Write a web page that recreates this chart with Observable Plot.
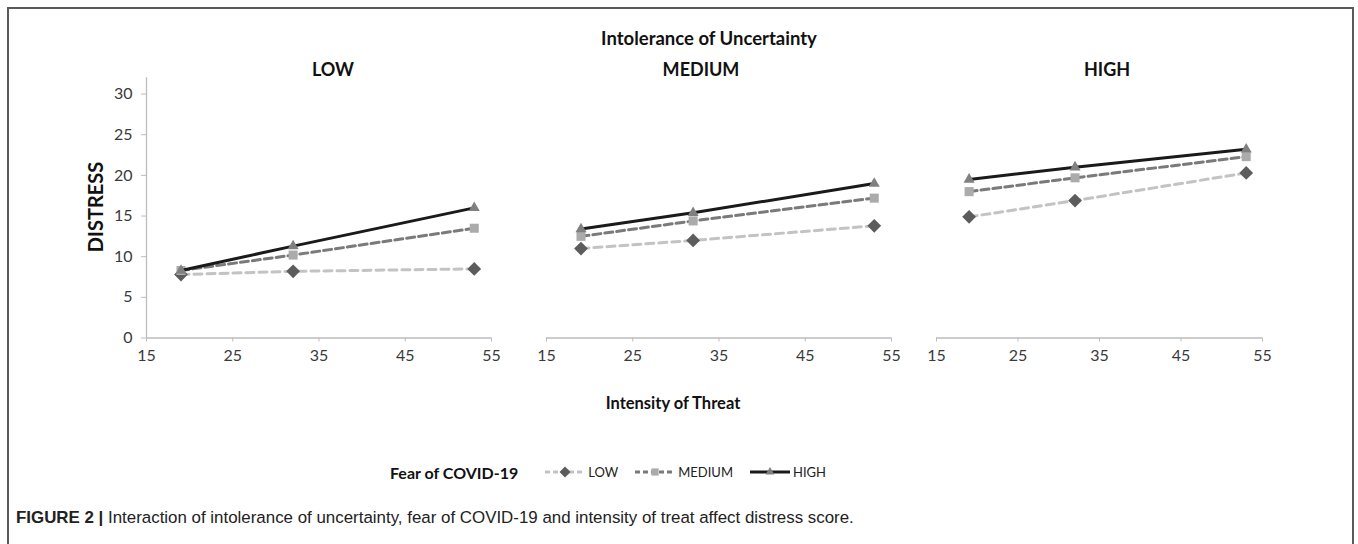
<!DOCTYPE html>
<html><head><meta charset="utf-8">
<script src="https://cdn.jsdelivr.net/npm/d3@7"></script>
<script src="https://cdn.jsdelivr.net/npm/@observablehq/plot@0.6"></script>
<style>
html,body{margin:0;padding:0;background:#fff;}
#root{position:relative;width:1358px;height:544px;overflow:hidden;font-family:Lato,"Open Sans",sans-serif;background:#fff;}
.frame{position:absolute;left:7px;top:7px;width:1347px;height:560px;border:2px solid #5a5a5a;box-sizing:border-box;}
.t{position:absolute;white-space:nowrap;line-height:1;transform:translate(-50%,-50%);color:#111;}
.b{font-weight:bold;}
.panel{position:absolute;}
#legend{position:absolute;left:390px;top:462px;height:20px;display:flex;align-items:center;white-space:nowrap;}
#caption{position:absolute;left:16px;top:510px;white-space:nowrap;font-family:"Liberation Sans Narrow","Liberation Sans",sans-serif;font-size:16.9px;color:#222;line-height:1;}
</style></head><body><div id="root"><div class="frame"></div></div>
<script>
// ---- data ----
const threat = [19, 32, 53];                       // Intensity of Threat (x)
const iuLevels = ["LOW", "MEDIUM", "HIGH"];         // Intolerance of Uncertainty (panels)
const fearLevels = ["LOW", "MEDIUM", "HIGH"];       // Fear of COVID-19 (series)
const iuLow_fearLow   = [7.8, 8.2, 8.5];
const iuLow_fearMed   = [8.3, 10.2, 13.5];
const iuLow_fearHigh  = [8.3, 11.3, 16.0];
const iuMed_fearLow   = [11.0, 12.0, 13.8];
const iuMed_fearMed   = [12.5, 14.4, 17.2];
const iuMed_fearHigh  = [13.4, 15.4, 19.0];
const iuHigh_fearLow  = [14.9, 16.9, 20.3];
const iuHigh_fearMed  = [18.0, 19.7, 22.3];
const iuHigh_fearHigh = [19.5, 21.0, 23.2];
const xTicks = [15, 25, 35, 45, 55];
const yTicks = [0, 5, 10, 15, 20, 25, 30];

// ---- styles ----
const lineColor = ["#c3c3c3", "#7a7a7a", "#1a1a1a"];
const lineDash = ["8,5", "8,4", null];
const markColor = ["#5c5c5c", "#ababab", "#808080"];
const markSymbol = ["diamond2", "square", "triangle"];
const markR = [6.2, 5.1, 4.1];

const root = document.getElementById("root");
function addText(txt, cx, cy, size, bold, extra) {
  const d = document.createElement("div");
  d.className = "t" + (bold ? " b" : "");
  d.textContent = txt;
  d.style.left = cx + "px"; d.style.top = cy + "px"; d.style.fontSize = size + "px";
  if (extra) Object.assign(d.style, extra);
  root.appendChild(d);
  return d;
}

function panel(series, left, width, marginLeft, marginRight, showY) {
  const rows = [];
  fearLevels.forEach((f, i) => threat.forEach((t, j) => rows.push({fear: f, idx: i, threat: t, distress: series[i][j]})));
  const marks = [Plot.ruleY([0], {stroke: "#bdbdbd", strokeWidth: 1.3})];
  marks.push(Plot.axisX({ticks: xTicks, tickSize: 4, tickPadding: 8, stroke: "#bdbdbd", fill: "#3a3a3a", fontSize: 16, label: null, tickFormat: d => d}));
  if (showY) {
    marks.push(Plot.ruleX([15], {stroke: "#bdbdbd", strokeWidth: 1.3}));
    marks.push(Plot.axisY({ticks: yTicks, tickSize: 5, tickPadding: 9, stroke: "#bdbdbd", fill: "#3a3a3a", fontSize: 16, label: null, tickFormat: d => d}));
  }
  fearLevels.forEach((f, i) => {
    const d = rows.filter(r => r.fear === f);
    marks.push(Plot.line(d, {x: "threat", y: "distress", stroke: lineColor[i], strokeWidth: 3, strokeDasharray: lineDash[i]}));
    marks.push(Plot.dot(d, {x: "threat", y: "distress", symbol: markSymbol[i], fill: markColor[i], r: markR[i], stroke: "none"}));
  });
  const top = 45;
  const plot = Plot.plot({
    width, height: 330,
    marginLeft, marginRight, marginTop: 32.3, marginBottom: 37.5,
    x: {domain: [15, 55]},
    y: {domain: [0, 32], axis: showY ? undefined : null},
    style: {fontFamily: "Lato, sans-serif", fontSize: "16px", background: "transparent", overflow: "visible"},
    marks
  });
  plot.classList.add("panel");
  plot.style.left = left + "px"; plot.style.top = top + "px";
  root.appendChild(plot);
}

panel([iuLow_fearLow, iuLow_fearMed, iuLow_fearHigh], 80, 430, 66, 19, true);
panel([iuMed_fearLow, iuMed_fearMed, iuMed_fearHigh], 520, 400, 26, 29, false);
panel([iuHigh_fearLow, iuHigh_fearMed, iuHigh_fearHigh], 910, 400, 26, 48, false);

// titles
addText("Intolerance of Uncertainty", 709, 38, 18.5, true);
[[iuLevels[0], 333], [iuLevels[1], 701], [iuLevels[2], 1107]].forEach(([t, x]) => addText(t, x, 69, 18, true));
addText("DISTRESS", 95, 207, 20, true, {transform: "translate(-50%,-50%) rotate(-90deg)"});
addText("Intensity of Threat", 673, 403, 16.5, true);

// legend
const leg = document.createElement("div");
leg.id = "legend";
root.appendChild(leg);
const lt = document.createElement("span");
lt.textContent = "Fear of COVID-19"; lt.style.fontWeight = "bold"; lt.style.fontSize = "16px"; lt.style.marginRight = "26px"; lt.style.color = "#111";
leg.appendChild(lt);
const symMap = {diamond2: d3.symbolDiamond2, square: d3.symbolSquare, triangle: d3.symbolTriangle};
fearLevels.forEach((f, i) => {
  const s = d3.select(leg).append("svg").attr("width", 42).attr("height", 14).style("margin-right", "2px");
  s.append("line").attr("x1", 1).attr("x2", 41).attr("y1", 7).attr("y2", 7)
    .attr("stroke", lineColor[i]).attr("stroke-width", 3).attr("stroke-dasharray", lineDash[i] ? "5,3" : null);
  s.append("path").attr("transform", "translate(21,7)")
    .attr("d", d3.symbol(symMap[markSymbol[i]], Math.PI * (markR[i] * 0.8) ** 2)()).attr("fill", markColor[i]);
  d3.select(leg).append("span").text(f).style("font-size", "13px").style("color", "#222").style("margin-right", i < 2 ? "16px" : "0");
});

// caption
const cap = document.createElement("div");
cap.id = "caption";
cap.innerHTML = "<b>FIGURE 2 |</b> Interaction of intolerance of uncertainty, fear of COVID-19 and intensity of treat affect distress score.";
root.appendChild(cap);
</script></body></html>
